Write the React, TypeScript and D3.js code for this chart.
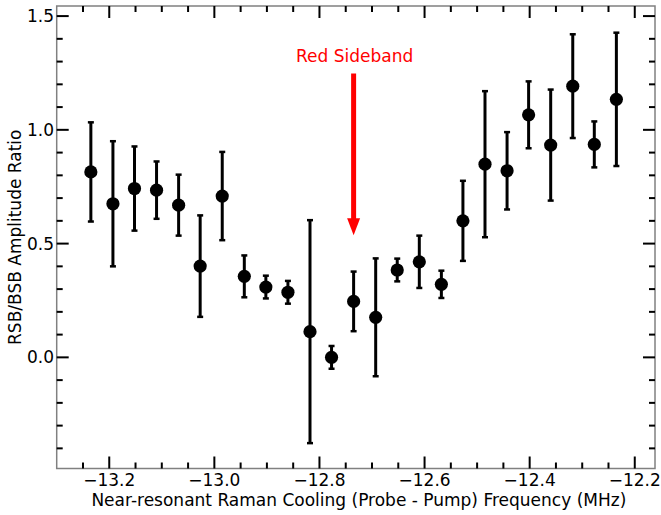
import React from "react";
import * as d3 from "d3";

// Probe - pump detuning (MHz)
const frequencies = [
  -13.235, -13.193, -13.152, -13.110, -13.068, -13.027, -12.985, -12.943,
  -12.902, -12.860, -12.818, -12.777, -12.735, -12.693, -12.652, -12.610,
  -12.568, -12.527, -12.485, -12.443, -12.402, -12.360, -12.318, -12.277,
  -12.235,
];

// Measured RSB/BSB amplitude ratio
const ratios = [
  0.815, 0.675, 0.742, 0.735, 0.669, 0.401, 0.709, 0.356,
  0.309, 0.286, 0.113, 0.0, 0.246, 0.176, 0.384, 0.42,
  0.321, 0.6, 0.849, 0.82, 1.066, 0.933, 1.192, 0.936,
  1.134,
];

// One-sigma uncertainty on the ratio
const errors = [
  0.218, 0.275, 0.185, 0.126, 0.134, 0.223, 0.194, 0.092,
  0.05, 0.05, 0.49, 0.05, 0.131, 0.259, 0.05, 0.115,
  0.06, 0.176, 0.321, 0.17, 0.147, 0.244, 0.228, 0.101,
  0.293,
];

const xTickValues = [-13.2, -13.0, -12.8, -12.6, -12.4, -12.2];
const yTickValues = [0.0, 0.5, 1.0, 1.5];

const annotationText = "Red Sideband";
const annotationX = -12.735;
const annotationTextY = 1.299;
const arrowTailY = 1.248;
const arrowTipY = 0.537;

const xLabel = "Near-resonant Raman Cooling (Probe - Pump) Frequency (MHz)";
const yLabel = "RSB/BSB Amplitude Ratio";

const W = 661;
const H = 515;
const plot = { left: 56.7, right: 655, top: 6, bottom: 468.5 };
const FONT = "'DejaVu Sans', sans-serif";
const FS = 17;

export default function App() {
  const x = d3.scaleLinear().domain([-13.3, -12.1615]).range([plot.left, plot.right]);
  const y = d3.scaleLinear().domain([-0.4885, 1.5443]).range([plot.bottom, plot.top]);

  const xMinor = d3.range(-13.25, -12.16, 0.05).map((v) => +v.toFixed(2))
    .filter((v) => !xTickValues.some((t) => Math.abs(t - v) < 1e-6));
  const yMinor = d3.range(-0.4, 1.55, 0.1).map((v) => +v.toFixed(2))
    .filter((v) => !yTickValues.some((t) => Math.abs(t - v) < 1e-6));

  const fmt = (v: number) => d3.format(".1f")(v).replace("-", "\u2212");

  const data = frequencies.map((f, i) => ({ f, r: ratios[i], e: errors[i] }));

  const tickStroke = { stroke: "#000", strokeWidth: 2 };
  const major = 12;
  const minor = 6;

  const ax = x(annotationX);
  const tipY = y(arrowTipY);
  const headLen = 17;
  const headHalf = 6.5;

  return (
    <svg
      width={W}
      height={H}
      style={{ position: "absolute", left: 0, top: 0, background: "#fff" }}
      fontFamily={FONT}
    >
      <rect width={W} height={H} fill="#fff" />

      {/* error bars with caps */}
      {data.map((d, i) => (
        <g key={`e${i}`} stroke="#000">
          <line x1={x(d.f)} x2={x(d.f)} y1={y(d.r - d.e)} y2={y(d.r + d.e)} strokeWidth={3} />
          <line x1={x(d.f) - 3} x2={x(d.f) + 3} y1={y(d.r + d.e)} y2={y(d.r + d.e)} strokeWidth={2.5} />
          <line x1={x(d.f) - 3} x2={x(d.f) + 3} y1={y(d.r - d.e)} y2={y(d.r - d.e)} strokeWidth={2.5} />
        </g>
      ))}
      {data.map((d, i) => (
        <circle key={`p${i}`} cx={x(d.f)} cy={y(d.r)} r={6.6} fill="#000" />
      ))}

      {/* annotation arrow */}
      <line x1={ax} x2={ax} y1={y(arrowTailY)} y2={tipY - headLen + 1} stroke="#ff0000" strokeWidth={5} />
      <path
        d={`M${ax - headHalf},${tipY - headLen} L${ax + headHalf},${tipY - headLen} L${ax},${tipY} Z`}
        fill="#ff0000"
      />
      <text x={ax + 1} y={y(annotationTextY)} textAnchor="middle" fill="#ff0000" fontSize={FS}>
        {annotationText}
      </text>

      {/* frame */}
      <rect
        x={plot.left}
        y={plot.top}
        width={plot.right - plot.left}
        height={plot.bottom - plot.top}
        fill="none"
        stroke="#808080"
        strokeWidth={1.5}
      />

      {/* x ticks (bottom and top, pointing inward) */}
      {xTickValues.map((v) => (
        <g key={`xt${v}`}>
          <line x1={x(v)} x2={x(v)} y1={plot.bottom} y2={plot.bottom - major} {...tickStroke} />
          <line x1={x(v)} x2={x(v)} y1={plot.top} y2={plot.top + major} {...tickStroke} />
          <text x={x(v)} y={486} textAnchor="middle" fontSize={FS} fill="#000">
            {fmt(v)}
          </text>
        </g>
      ))}
      {xMinor.map((v) => (
        <g key={`xm${v}`}>
          <line x1={x(v)} x2={x(v)} y1={plot.bottom} y2={plot.bottom - minor} {...tickStroke} />
          <line x1={x(v)} x2={x(v)} y1={plot.top} y2={plot.top + minor} {...tickStroke} />
        </g>
      ))}

      {/* y ticks (left and right, pointing inward) */}
      {yTickValues.map((v) => (
        <g key={`yt${v}`}>
          <line x1={plot.left} x2={plot.left + major} y1={y(v)} y2={y(v)} {...tickStroke} />
          <line x1={plot.right} x2={plot.right - major} y1={y(v)} y2={y(v)} {...tickStroke} />
          <text x={54} y={y(v)} dy="0.36em" textAnchor="end" fontSize={FS} fill="#000">
            {fmt(v)}
          </text>
        </g>
      ))}
      {yMinor.map((v) => (
        <g key={`ym${v}`}>
          <line x1={plot.left} x2={plot.left + minor} y1={y(v)} y2={y(v)} {...tickStroke} />
          <line x1={plot.right} x2={plot.right - minor} y1={y(v)} y2={y(v)} {...tickStroke} />
        </g>
      ))}

      {/* axis titles */}
      <text x={(plot.left + plot.right) / 2 + 3} y={506} textAnchor="middle" fontSize={FS} fill="#000">
        {xLabel}
      </text>
      <text
        transform={`translate(21, ${(plot.top + plot.bottom) / 2}) rotate(-90)`}
        textAnchor="middle"
        fontSize={FS}
        fill="#000"
      >
        {yLabel}
      </text>
    </svg>
  );
}
